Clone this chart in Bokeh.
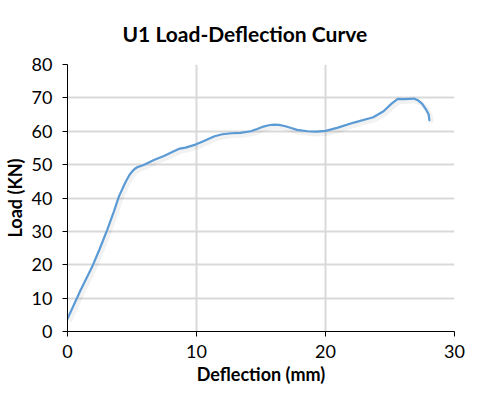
from bokeh.plotting import figure
from bokeh.models import Range1d, FixedTicker
from bokeh.embed import file_html
from bokeh.resources import INLINE

title_text = "U1 Load-Deflection Curve"
x_label = "Deflection (mm)"
y_label = "Load (KN)"
x_ticks = [0, 10, 20, 30]
y_ticks = [0, 10, 20, 30, 40, 50, 60, 70, 80]

deflection = [0.0, 1.0, 1.9, 2.5, 3.07, 3.6, 3.98, 4.5, 4.8, 5.0, 5.2, 5.4, 5.9, 6.7, 7.47,
              8.24, 8.7, 9.15, 9.92, 10.4, 10.83, 11.4, 12.0, 12.7, 13.4, 14.2, 14.7,
              15.1, 15.6, 16.0, 16.4, 16.9, 17.4, 17.8, 18.6, 19.3, 20.0, 20.9,
              22.2, 23.7, 24.5, 25.1, 25.6, 26.1, 26.85, 27.2, 27.5, 27.8, 28.0, 28.05]
load = [3.8, 12.3, 19.3, 24.8, 30.4, 36.0, 40.4, 44.8, 46.9, 47.9, 48.7, 49.2, 49.9, 51.4, 52.6,
        54.0, 54.8, 55.1, 56.0, 56.8, 57.5, 58.5, 59.1, 59.4, 59.5, 60.0, 60.7,
        61.3, 61.8, 62.0, 61.9, 61.5, 60.9, 60.4, 60.0, 59.9, 60.1, 61.0,
        62.6, 64.2, 66.0, 68.2, 69.7, 69.6, 69.8, 69.2, 68.2, 66.5, 65.0, 63.3]

FONT = "Lato"

p = figure(width=486, height=401, output_backend="svg", toolbar_location=None,
           x_range=Range1d(0, 30), y_range=Range1d(0, 80),
           title=title_text)
p.min_border_left = 67
p.min_border_right = 32
p.min_border_top = 64
p.min_border_bottom = 70
p.outline_line_color = None
p.background_fill_color = "white"
p.border_fill_color = "white"

p.title.text_font = FONT
p.title.text_font_size = "21px"
p.title.text_font_style = "bold"
p.title.text_color = "#000000"
p.title.align = "left"
p.title.offset = 55
p.title.standoff = 37

for ax in (p.xaxis[0], p.yaxis[0]):
    ax.axis_line_color = "#000000"
    ax.axis_line_width = 1
    ax.major_tick_line_color = "#000000"
    ax.major_tick_out = 5
    ax.major_tick_in = 0
    ax.minor_tick_line_color = None
    ax.major_label_text_font = FONT
    ax.major_label_text_font_size = "18px"
    ax.major_label_text_color = "#000000"
    ax.axis_label_text_font = FONT
    ax.axis_label_text_font_size = "18px"
    ax.axis_label_text_font_style = "bold"
    ax.axis_label_text_color = "#000000"

p.xaxis[0].ticker = FixedTicker(ticks=x_ticks)
p.yaxis[0].ticker = FixedTicker(ticks=y_ticks)
p.xaxis[0].axis_label = x_label
p.yaxis[0].axis_label = y_label
p.xaxis[0].major_label_standoff = 8
p.xaxis[0].axis_label_standoff = 2
p.yaxis[0].major_label_standoff = 10
p.yaxis[0].axis_label_standoff = 3

p.xgrid.ticker = FixedTicker(ticks=x_ticks)
p.ygrid.ticker = FixedTicker(ticks=y_ticks)
p.xgrid.grid_line_color = "#d9d9d9"
p.ygrid.grid_line_color = "#d9d9d9"
p.xgrid.grid_line_width = 2
p.ygrid.grid_line_width = 2

# soft shadow
shadow_x = [v + 0.15 for v in deflection]
shadow_y = [v - 0.7 for v in load]
p.line(shadow_x, shadow_y, line_color="#000000", line_alpha=0.05, line_width=5)
p.line(deflection, load, line_color="#5B9BD5", line_width=2.2, line_join="round", line_cap="round")

open("out.html", "w").write(file_html(p, INLINE))
